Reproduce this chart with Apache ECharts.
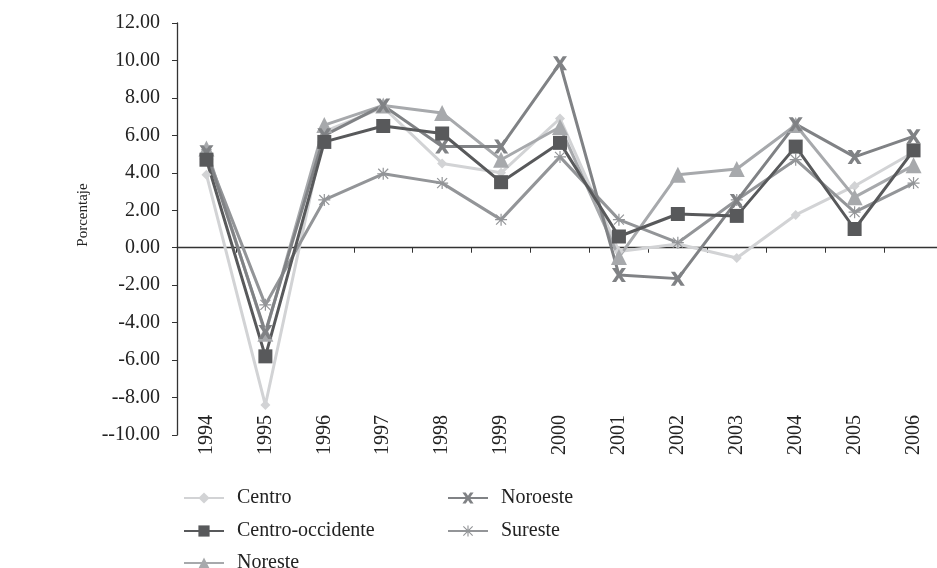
<!DOCTYPE html>
<html>
<head>
    <meta charset="utf-8">
    <title>Porcentaje por región</title>
    <script type="text/javascript" src="https://cdn.jsdelivr.net/npm/echarts@6/dist/echarts.min.js"></script>
    <style>
        html, body { margin:0; padding:0; background:#fff; }
        #chart { width:937px; height:568px; }
    </style>
</head>
<body>
    <div id="chart"></div>

<script type="text/javascript">
    // años (eje X)
    var years = ['1994','1995','1996','1997','1998','1999','2000','2001','2002','2003','2004','2005','2006'];
    // etiquetas del eje Y, tal como aparecen
    var yTicks  = [12, 10, 8, 6, 4, 2, 0, -2, -4, -6, -8, -10];
    var yLabels = ['12.00','10.00','8.00','6.00','4.00','2.00','0.00','-2.00','-4.00','-6.00','--8.00','--10.00'];

    var centro           = [3.9, -8.4, 6.2, 7.5, 4.5, 4.0, 6.9, -0.2, 0.2, -0.55, 1.75, 3.3, 5.1];
    var centroOccidente  = [4.7, -5.8, 5.65, 6.5, 6.1, 3.5, 5.6, 0.6, 1.8, 1.7, 5.4, 1.0, 5.2];
    var noreste          = [5.3, -4.6, 6.55, 7.6, 7.2, 4.7, 6.45, -0.5, 3.9, 4.2, 6.55, 2.7, 4.4];
    var noroeste         = [5.1, -4.5, 6.0, 7.6, 5.4, 5.4, 9.85, -1.45, -1.65, 2.5, 6.6, 4.85, 5.95];
    var sureste          = [5.0, -3.05, 2.55, 3.95, 3.45, 1.5, 4.85, 1.5, 0.27, 2.55, 4.7, 1.9, 3.45];

    var symX = 'path://M0 0 L3 0 L5 3 L7 0 L10 0 L6.6 5 L10 10 L7 10 L5 7 L3 10 L0 10 L3.4 5 Z';
    var symAst = 'path://M4.5 0 L5.5 0 L5.5 10 L4.5 10 Z M0 4.5 L10 4.5 L10 5.5 L0 5.5 Z' +
                 ' M1.2 0.5 L9.5 8.8 L8.8 9.5 L0.5 1.2 Z M8.8 0.5 L9.5 1.2 L1.2 9.5 L0.5 8.8 Z';

    var fuente = 'Liberation Serif';

    function serie(nombre, datos, color, simbolo, tam) {
        return {
            name: nombre,
            type: 'line',
            data: datos,
            symbol: simbolo,
            symbolSize: tam,
            showAllSymbol: true,
            lineStyle: { color: color, width: 3 },
            itemStyle: { color: color, borderWidth: 0 },
            emphasis: { disabled: true },
            animation: false
        };
    }

    // una leyenda por entrada, en dos columnas
    function leyenda(nombre, x, y) {
        return {
            data: [nombre],
            left: x, top: y,
            itemWidth: 40, itemHeight: 14,
            textStyle: { fontFamily: fuente, fontSize: 20, color: '#222', padding: [0,0,0,8] },
            selectedMode: false
        };
    }

    var chart = echarts.init(document.getElementById('chart'));
    chart.setOption({
        backgroundColor: '#fff',
        textStyle: { fontFamily: fuente },
        grid: { left: 177, top: 23, right: -6, bottom: 133, outerBoundsMode: 'none', containLabel: false },
        legend: [
            leyenda('Centro', 178, 483),
            leyenda('Centro-occidente', 178, 516),
            leyenda('Noreste', 178, 548),
            leyenda('Noroeste', 442, 483),
            leyenda('Sureste', 442, 516)
        ],
        xAxis: {
            type: 'category',
            data: years,
            boundaryGap: true,
            axisLine: { onZero: true, lineStyle: { color: '#333', width: 1.3 } },
            axisTick: { show: true, inside: false, length: 5, lineStyle: { color: '#333' } },
            axisLabel: {
                rotate: 90, margin: -20, interval: 0,
                fontFamily: fuente, fontSize: 20, color: '#222'
            },
            splitLine: { show: false }
        },
        yAxis: {
            type: 'value',
            min: -10, max: 12, interval: 2,
            name: 'Porcentaje',
            nameLocation: 'middle',
            nameGap: 86,
            nameTextStyle: { fontFamily: fuente, fontSize: 15, color: '#222', padding: [0,0,0,28] },
            axisLine: { show: true, lineStyle: { color: '#333', width: 1.3 } },
            axisTick: { show: true, length: 5, lineStyle: { color: '#333' } },
            axisLabel: {
                fontFamily: fuente, fontSize: 20, color: '#222', margin: 17,
                formatter: function (v) {
                    var i = yTicks.indexOf(v);
                    return i >= 0 ? yLabels[i] : '';
                }
            },
            splitLine: { show: false }
        },
        series: [
            serie('Centro', centro, '#d2d3d5', 'diamond', 10),
            serie('Noreste', noreste, '#a7a9ac', 'triangle', 16),
            serie('Sureste', sureste, '#939598', symAst, 12),
            serie('Noroeste', noroeste, '#808285', symX, 14),
            serie('Centro-occidente', centroOccidente, '#58595b', 'rect', 14)
        ]
    });
</script>
</body>
</html>
